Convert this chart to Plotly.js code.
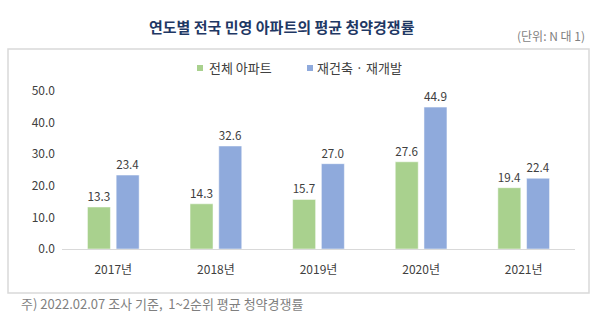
<!DOCTYPE html>
<html>
<head>
<meta charset="utf-8">
<script src="https://cdn.plot.ly/plotly-3.0.1.min.js"></script>
<style>html,body{margin:0;padding:0;background:#fff;}#chart{width:600px;height:322px;}</style>
</head>
<body>
<div id="chart"></div>
<script>
const categories = ["2017년", "2018년", "2019년", "2020년", "2021년"];
const seriesNames = ["전체 아파트", "재건축 · 재개발"];
const allApt = [13.3, 14.3, 15.7, 27.6, 19.4];
const redev = [23.4, 32.6, 27.0, 44.9, 22.4];
const yTicks = [0, 10, 20, 30, 40, 50];
const titleText = "연도별 전국 민영 아파트의 평균 청약경쟁률";
const unitText = "(단위: N 대 1)";
const noteText = "주) 2022.02.07 조사 기준,  1~2순위 평균 청약경쟁률";

const FONT = "'Noto Sans CJK KR', 'Noto Sans', sans-serif";
const colors = ["#a9d18e", "#8faadc"];

const L = 62, T = 91, PW = 513, PH = 158, BASE = T + PH;
const px = x => (x - L) / PW;
const py = y => (BASE - y) / PH;

const traces = [allApt, redev].map((vals, i) => ({
  type: "bar",
  name: seriesNames[i],
  x: categories,
  y: vals,
  marker: {color: colors[i], line: {color: "#ffffff", width: 0.5}},
  text: vals.map(v => v.toFixed(1)),
  textposition: "outside",
  cliponaxis: false,
  textfont: {family: FONT, size: 12, color: "#404040"},
  hoverinfo: "none",
  showlegend: false
}));

const legendShapes = colors.map((c, i) => ({
  type: "rect", xref: "paper", yref: "paper",
  x0: px([197, 307][i]), x1: px([203, 313][i]),
  y0: py(71), y1: py(65),
  line: {width: 0}, fillcolor: c
}));
const legendTexts = seriesNames.map((n, i) => ({
  text: n, xref: "paper", yref: "paper",
  x: px([207, 315][i]), y: py(68), xanchor: "left", yanchor: "middle",
  showarrow: false, font: {family: FONT, size: 13, color: "#404040"}
}));

const layout = {
  width: 600, height: 322,
  margin: {l: L, r: 600 - L - PW, t: T, b: 322 - BASE},
  paper_bgcolor: "#fff", plot_bgcolor: "#fff",
  barmode: "group", bargap: 0.44, bargroupgap: 0.2,
  font: {family: FONT, color: "#404040", size: 12},
  xaxis: {
    showgrid: false, zeroline: false, showline: true, linecolor: "#d9d9d9", linewidth: 1,
    ticks: "", ticklabelstandoff: 10,
    tickfont: {family: FONT, size: 12, color: "#404040"}, fixedrange: true
  },
  yaxis: {
    range: [0, 50], tickvals: yTicks, ticktext: yTicks.map(v => v.toFixed(1)),
    showgrid: false, zeroline: false, showline: false, ticks: "", ticklabelstandoff: 6,
    tickfont: {family: FONT, size: 12, color: "#404040"}, fixedrange: true
  },
  showlegend: false,
  shapes: [{
    type: "rect", xref: "paper", yref: "paper",
    x0: px(8), x1: px(589), y0: py(293), y1: py(49),
    line: {color: "#d9d9d9", width: 1.5}, fillcolor: "rgba(0,0,0,0)", layer: "below"
  }].concat(legendShapes),
  annotations: [
    {text: "<b>" + titleText + "</b>", xref: "paper", yref: "paper",
     x: px(282), y: py(26), xanchor: "center", yanchor: "middle",
     showarrow: false, font: {family: FONT, size: 15, color: "#1f3864"}},
    {text: unitText, xref: "paper", yref: "paper",
     x: px(587), y: py(35), xanchor: "right", yanchor: "middle",
     showarrow: false, font: {family: FONT, size: 12, color: "#7f7f7f"}},
    {text: noteText, xref: "paper", yref: "paper",
     x: px(19), y: py(303), xanchor: "left", yanchor: "middle",
     showarrow: false, font: {family: FONT, size: 13, color: "#7f7f7f"}}
  ].concat(legendTexts)
};

Plotly.newPlot("chart", traces, layout, {displayModeBar: false, staticPlot: true});
</script>
</body>
</html>
